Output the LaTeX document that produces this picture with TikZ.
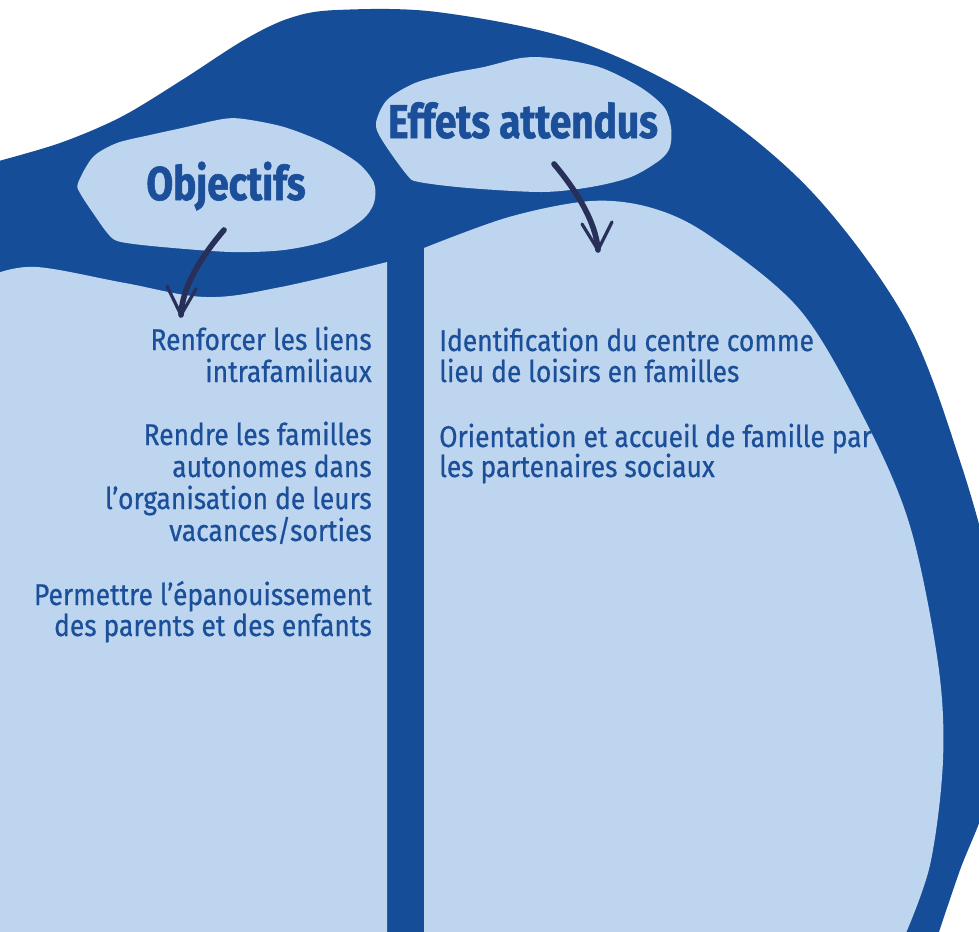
\documentclass[tikz,border=0pt]{standalone}
\usepackage{fontspec}
\setmainfont{Fira Sans}
\newfontfamily\bodyfont[FakeStretch=0.88,FakeBold=0.6]{Fira Sans}
\newfontfamily\headfont[FakeStretch=0.82,FakeBold=1.2]{Fira Sans}
\definecolor{dkblue}{HTML}{154D98}
\definecolor{ltblue}{HTML}{BDD5EE}
\definecolor{navy}{HTML}{282F59}
\definecolor{txtblue}{HTML}{1B4F99}
\tikzset{
  bodyL/.style={anchor=base east,inner sep=0pt,text=txtblue,font=\bodyfont\fontsize{22.5}{24}\selectfont},
  bodyR/.style={anchor=base west,inner sep=0pt,text=txtblue,font=\bodyfont\fontsize{22.5}{24}\selectfont},
  head/.style={anchor=base,inner sep=0pt,text=txtblue,font=\headfont\bfseries\fontsize{35.5}{40}\selectfont},
  shaft/.style={draw=navy,line width=4.2pt,line cap=round},
  barb/.style={draw=navy,line width=2.4pt,line cap=round,line join=round}
}
\begin{document}
\begin{tikzpicture}[x=0.75pt,y=-0.75pt]
\useasboundingbox (0,0) rectangle (979,932);
\fill[white] (0,0) rectangle (979,932);
\begin{scope}
\clip (0,0) rectangle (979,932);
% outer dark blob
\fill[dkblue] plot[smooth,tension=0.55] coordinates {(-5,162) (60,143) (121,117) (182,80) (244,40) (290,18) (337,10) (437,12) (574,40) (700,100) (812,192) (906,320) (960,461) (992,580) (1003,690) (988,795) (960,870) (938,935)} -- (938,960) -- (-5,960) -- cycle;
% left light panel
\fill[ltblue] plot[smooth,tension=0.6] coordinates {(-5,274) (37,267) (125,283) (206,297) (281,287) (387,262)} -- (387,940) -- (-5,940) -- cycle;
% right light panel
\fill[ltblue] (424,940) -- plot[smooth,tension=0.55] coordinates {(424,248) (509,217) (591,201) (652,208) (710,236) (800,310) (865,420) (910,526) (938,663) (943,760) (930,865) (903,940)} -- cycle;
\end{scope}
% bubbles
\fill[ltblue] plot[smooth cycle,tension=0.5] coordinates {(78,183) (93,157) (117,143) (150,135) (182,128) (223,119) (244,119) (284,127) (325,143) (358,163) (374,183) (374,203) (362,220) (329,240) (284,250) (231,252) (162,247) (121,242) (109,235) (93,213) (80,193)};
\fill[ltblue] plot[smooth cycle,tension=0.5] coordinates {(376,123) (387,100) (415,83) (452,73) (484,67) (521,58) (550,58) (599,67) (640,87) (664,107) (671,127) (670,147) (660,160) (631,177) (591,187) (542,192) (468,188) (419,182) (407,175) (382,140)};
% headings
\node[head] (hobj) at (226,200) {Objectifs};
\node[head] (heff) at (523,138) {Effets attendus};
% arrows
\coordinate (a1s) at (224,230);
\coordinate (a1e) at (181,315);
\coordinate (a1l) at (167,286);
\coordinate (a1r) at (196,289);
\coordinate (a2s) at (554,164);
\coordinate (a2e) at (598,250);
\coordinate (a2l) at (582,224);
\coordinate (a2r) at (612,222);
\draw[shaft] (a1s) .. controls (200,258) and (182,288) .. (a1e);
\draw[barb] (a1l) -- (a1e) -- (a1r);
\draw[shaft] (a2s) .. controls (576,190) and (596,222) .. (a2e);
\draw[barb] (a2l) -- (a2e) -- (a2r);
% left texts
\node[bodyL] (l1) at (372,350) {Renforcer les liens};
\node[bodyL] (l2) at (372,382) {intrafamiliaux};
\node[bodyL] (l3) at (372,445) {Rendre les familles};
\node[bodyL] (l4) at (372,477) {autonomes dans};
\node[bodyL] (l5) at (372,509) {l’organisation de leurs};
\node[bodyL] (l6) at (372,541) {vacances/sorties};
\node[bodyL] (l7) at (372,605) {Permettre l’épanouissement};
\node[bodyL] (l8) at (372,636) {des parents et des enfants};
% right texts
\node[bodyR] (r1) at (439,351) {Identification du centre comme};
\node[bodyR] (r2) at (439,382) {lieu de loisirs en familles};
\node[bodyR] (r3) at (439,447) {Orientation et accueil de famille par};
\node[bodyR] (r4) at (439,477) {les partenaires sociaux};
\end{tikzpicture}
\end{document}
